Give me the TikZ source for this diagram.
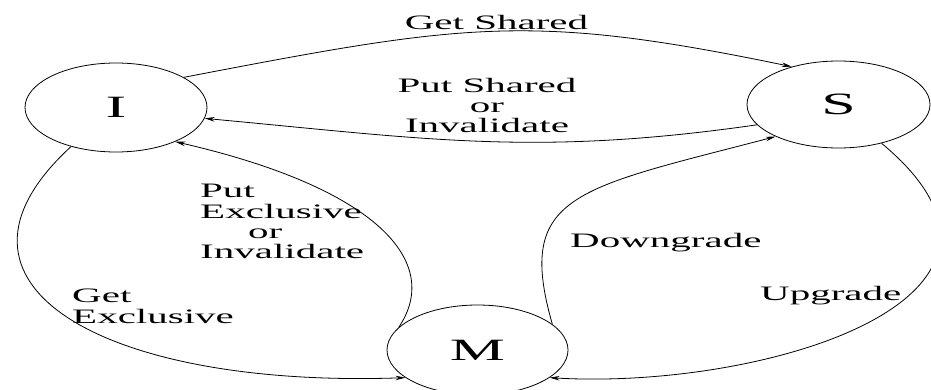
\documentclass[tikz,border=0pt]{standalone}
\usepackage{fontspec}
\setmainfont{Liberation Serif}
\usetikzlibrary{shapes.geometric,arrows.meta}
\newcommand\xstretch[1]{\scalebox{2}[1]{#1}}
\begin{document}
\begin{tikzpicture}[x=1pt,y=-1pt,
  state/.style={ellipse,draw,line width=0.8pt,inner sep=0pt,font=\fontsize{31}{31}\selectfont},
  edge/.style={line width=0.8pt,-{Stealth[length=10pt,width=4.5pt]}},
  lbl/.style={inner sep=0pt,font=\fontsize{20.5}{20}\selectfont}]
\useasboundingbox (0,0) rectangle (931,390);
\clip (0,0) rectangle (931,390);
\node[state,minimum width=182pt,minimum height=89pt] (I) at (116,107.5) {\xstretch{I}};
\node[state,minimum width=183pt,minimum height=87pt] (S) at (838.5,104.5) {\xstretch{S}};
\node[state,minimum width=181pt,minimum height=90pt] (M) at (477.5,350) {\xstretch{M}};

\draw[edge] (I.24.5) .. controls (465,23.4) and (530,12.4) .. (S.141.6);
\draw[edge] (S.194.8) .. controls (535,156.7) and (427,139) .. (I.353.9);
\draw[edge] (M.164) .. controls (443,262) and (377,188) .. (I.330.4);
\draw[edge] (I.221.2) .. controls (-80,285) and (105,388) .. (M.201);
\draw[edge] (M.19.9) .. controls (515,194) and (575,189) .. (S.207.8);
\draw[edge] (S.318.5) .. controls (1070,300) and (760,390) .. (M.339.7);

\node[lbl,anchor=base] (gs) at (496.5,30) {\xstretch{Get Shared}};
\node[lbl] (psi) at (487,108.5) {\xstretch{\begin{tabular}{@{}c@{}}Put Shared\\or\\Invalidate\end{tabular}}};
\node[lbl,anchor=west] (pei) at (200,224) {\xstretch{\begin{tabular}{@{}l@{}}Put\\Exclusive\\\hspace*{24pt}or\\Invalidate\end{tabular}}};
\node[lbl,anchor=west] (ge) at (72,309) {\xstretch{\begin{tabular}{@{}l@{}}Get\\Exclusive\end{tabular}}};
\node[lbl,anchor=base west] (dg) at (570,247) {\xstretch{Downgrade}};
\node[lbl,anchor=base west] (ug) at (760,300) {\xstretch{Upgrade}};
\end{tikzpicture}
\end{document}
